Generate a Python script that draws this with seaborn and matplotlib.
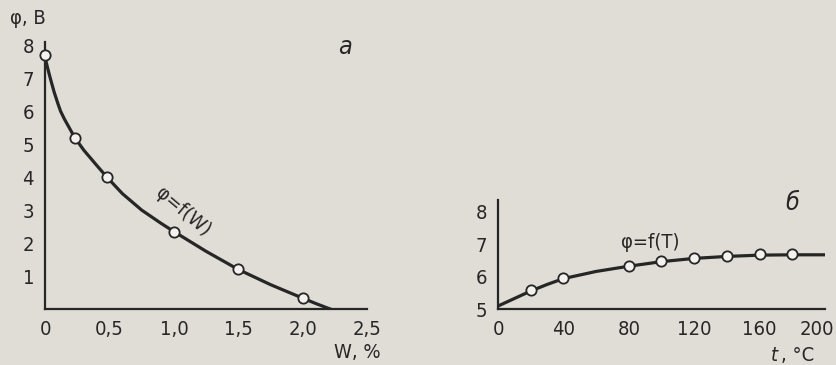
import numpy as np
import pandas as pd
import matplotlib
matplotlib.use("Agg")
import matplotlib.pyplot as plt
import matplotlib.transforms as mtransforms
import seaborn as sns

# panel a: phi vs moisture W, %
w_pts = [0.0, 0.23, 0.48, 1.0, 1.5, 2.0]
phi_w_pts = [7.7, 5.2, 4.0, 2.35, 1.2, 0.33]
# fitted curve
w_curve = [0.0, 0.02, 0.04, 0.07, 0.1, 0.12, 0.15, 0.19, 0.23, 0.3, 0.4, 0.48, 0.6,
           0.75, 0.9, 1.0, 1.25, 1.5, 1.75, 2.0, 2.1, 2.2, 2.25]
phi_w_curve = [7.62, 7.3, 7.0, 6.58, 6.22, 6.0, 5.76, 5.48, 5.2, 4.82, 4.36, 4.0, 3.5,
               3.0, 2.6, 2.35, 1.75, 1.2, 0.74, 0.33, 0.17, 0.02, -0.05]

# panel b: phi vs temperature t, C
t_pts = [20, 40, 80, 100, 120, 140, 160, 180]
phi_t_pts = [5.58, 5.95, 6.32, 6.48, 6.58, 6.64, 6.69, 6.70]
t_curve = [0, 10, 20, 30, 40, 60, 80, 100, 120, 140, 160, 180, 200]
phi_t_curve = [5.1, 5.33, 5.56, 5.76, 5.94, 6.16, 6.32, 6.46, 6.56, 6.62, 6.66, 6.67, 6.67]

xticks_a = [0, 0.5, 1.0, 1.5, 2.0, 2.5]
xlabels_a = ["0", "0,5", "1,0", "1,5", "2,0", "2,5"]
yticks_a = [1, 2, 3, 4, 5, 6, 7, 8]
xticks_b = [0, 40, 80, 120, 160, 200]
yticks_b = [5, 6, 7, 8]

bg = "#dfddd6"
ink = "#262626"

sns.set_theme(style="white")
plt.rcParams["font.family"] = ["DejaVu Sans"]
plt.rcParams["font.stretch"] = "condensed"
plt.rcParams["axes.facecolor"] = bg
plt.rcParams["figure.facecolor"] = bg

fig = plt.figure(figsize=(8.36, 3.65), dpi=100)
ax1 = fig.add_axes([0.054, 0.1534, 0.385, 0.7315])
ax2 = fig.add_axes([0.5957, 0.1526, 0.391, 0.2995])

curve_a = pd.DataFrame({"w": w_curve, "phi": phi_w_curve})
pts_a = pd.DataFrame({"w": w_pts, "phi": phi_w_pts})
curve_b = pd.DataFrame({"t": t_curve, "phi": phi_t_curve})
pts_b = pd.DataFrame({"t": t_pts, "phi": phi_t_pts})

sns.lineplot(data=curve_a, x="w", y="phi", ax=ax1, color=ink, lw=2.3, sort=False)
sns.scatterplot(data=pts_a, x="w", y="phi", ax=ax1, s=55, color="#f3f2ee",
                edgecolor=ink, linewidth=1.3, zorder=5, clip_on=False)
sns.lineplot(data=curve_b, x="t", y="phi", ax=ax2, color=ink, lw=2.3, sort=False)
sns.scatterplot(data=pts_b, x="t", y="phi", ax=ax2, s=55, color="#f3f2ee",
                edgecolor=ink, linewidth=1.3, zorder=5, clip_on=False)

ax1.set_xlim(0, 2.5)
ax1.set_ylim(0, 8.1)
ax1.set_xticks(xticks_a)
ax1.set_xticklabels(xlabels_a)
ax1.set_yticks(yticks_a)

ax2.set_xlim(0, 200)
ax2.set_ylim(5, 8.35)
ax2.set_xticks(xticks_b)
ax2.set_yticks(yticks_b)

for ax in (ax1, ax2):
    ax.set_xlabel("")
    ax.set_ylabel("")
    for side in ("top", "right"):
        ax.spines[side].set_visible(False)
    for side in ("left", "bottom"):
        ax.spines[side].set_color(ink)
        ax.spines[side].set_linewidth(1.6)
    ax.tick_params(axis="both", colors=ink, labelcolor=ink, labelsize=14.5,
                   direction="out", length=5, width=1.4, pad=3)

# keep the last label of panel b inside the page
last = ax2.get_xticklabels()[-1]
last.set_transform(last.get_transform() +
                   mtransforms.ScaledTranslation(-8 / 100, 0, fig.dpi_scale_trans))

# labels
fig.text(0.012, 0.935, "φ, В", fontsize=14.5, color=ink)
fig.text(0.4, 0.02, "W, %", fontsize=14.5, color=ink)
fig.text(0.922, 0.012, "t", fontsize=14.5, color=ink, style="italic")
fig.text(0.934, 0.012, ", °C", fontsize=14.5, color=ink)
ax1.text(2.33, 7.75, "а", fontsize=18, color=ink, style="italic", ha="center")
ax2.text(180, 8.05, "б", fontsize=18, color=ink, style="italic", ha="center")
ax1.text(1.07, 2.95, "φ=f(W)", fontsize=14.5, color=ink, rotation=-40,
         ha="center", va="center")
ax2.text(93, 7.05, "φ=f(T)", fontsize=14.5, color=ink, ha="center", va="center")

fig.savefig("out.png", dpi=100, facecolor=bg)
